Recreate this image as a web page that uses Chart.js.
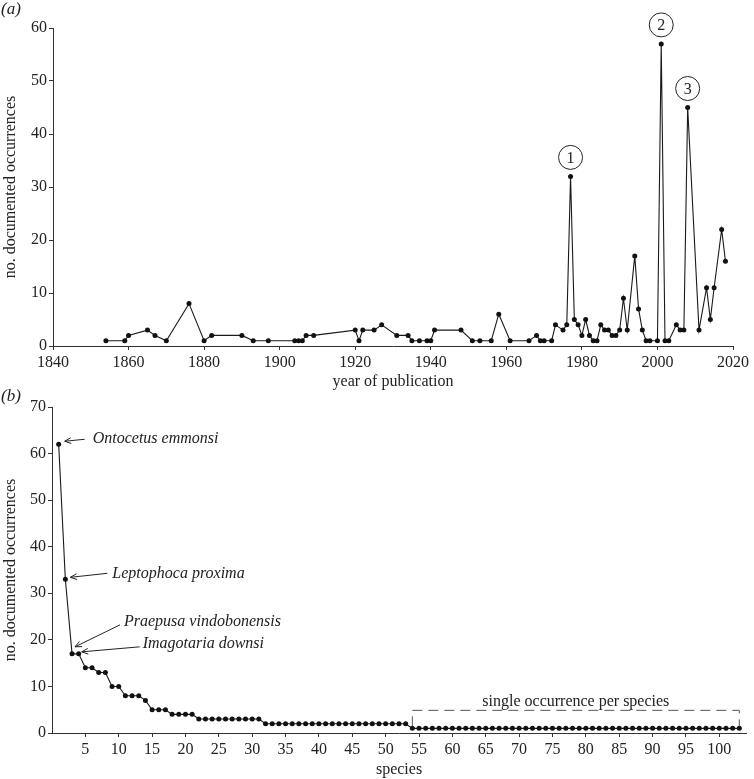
<!DOCTYPE html>
<html>
<head>
<meta charset="utf-8">
<script src="https://cdn.jsdelivr.net/npm/chart.js@4"></script>
<style>
  body { margin: 0; background: #fff; }
  #wrap { position: relative; width: 754px; height: 779px; }
  canvas { position: absolute; left: 0; }
</style>
</head>
<body>
<div id="wrap">
  <canvas id="chartA" width="754" height="392" style="top:0"></canvas>
  <canvas id="chartB" width="754" height="394" style="top:385px"></canvas>
</div>
<script>
// (a) occurrences per year of publication
const years = [1854, 1859, 1860, 1865, 1867, 1870, 1876, 1880, 1882, 1890, 1893, 1897,
  1904, 1905, 1906, 1907, 1909, 1920, 1921, 1922, 1925, 1927, 1931, 1934, 1935, 1937,
  1939, 1940, 1941, 1948, 1951, 1953, 1956, 1958, 1961, 1966, 1968, 1969, 1970, 1972,
  1973, 1975, 1976, 1977, 1978, 1979, 1980, 1981, 1982, 1983, 1984, 1985, 1986, 1987,
  1988, 1989, 1990, 1991, 1992, 1994, 1995, 1996, 1997, 1998, 2000, 2001, 2002, 2003,
  2005, 2006, 2007, 2008, 2011, 2013, 2014, 2015, 2017, 2018];
const counts = [1, 1, 2, 3, 2, 1, 8, 1, 2, 2, 1, 1,
  1, 1, 1, 2, 2, 3, 1, 3, 3, 4, 2, 2, 1, 1,
  1, 1, 3, 3, 1, 1, 1, 6, 1, 1, 2, 1, 1, 1,
  4, 3, 4, 32, 5, 4, 2, 5, 2, 1, 1, 4, 3, 3,
  2, 2, 3, 9, 3, 17, 7, 3, 1, 1, 1, 57, 1, 1,
  4, 3, 3, 45, 3, 11, 5, 11, 22, 16];
const peakYears = [1977, 2001, 2008];
const peakLabels = ['1', '2', '3'];

// (b) occurrences per species, ranked
const speciesCounts = [62, 33, 17, 17, 14, 14, 13, 13, 10, 10, 8, 8, 8, 7, 5, 5, 5, 4, 4, 4, 4,
  3, 3, 3, 3, 3, 3, 3, 3, 3, 3,
  2, 2, 2, 2, 2, 2, 2, 2, 2, 2, 2, 2, 2, 2, 2, 2, 2, 2, 2, 2, 2, 2,
  1, 1, 1, 1, 1, 1, 1, 1, 1, 1, 1, 1, 1, 1, 1, 1, 1, 1, 1, 1, 1, 1, 1, 1, 1,
  1, 1, 1, 1, 1, 1, 1, 1, 1, 1, 1, 1, 1, 1, 1, 1, 1, 1, 1, 1, 1, 1, 1, 1, 1];
const namedSpecies = [
  { rank: 1, name: 'Ontocetus emmonsi' },
  { rank: 2, name: 'Leptophoca proxima' },
  { rank: 3, name: 'Praepusa vindobonensis' },
  { rank: 4, name: 'Imagotaria downsi' }
];
const bracketText = 'single occurrence per species';

const serif = 'Liberation Serif, Times New Roman, serif';
const ink = '#222';
const axisInk = '#333';
const tickFont = { family: serif, size: 16 };

function axis(extra) {
  return Object.assign({
    type: 'linear',
    grid: { drawOnChartArea: false, tickLength: 4, color: axisInk, lineWidth: 1 },
    border: { color: axisInk, width: 1 }
  }, extra);
}

const circlePlugin = {
  id: 'circles',
  afterDraw(chart) {
    const ctx = chart.ctx;
    const pts = chart.getDatasetMeta(0).data;
    ctx.save();
    ctx.strokeStyle = ink;
    ctx.fillStyle = ink;
    ctx.lineWidth = 1;
    ctx.font = '16px ' + serif;
    ctx.textAlign = 'center';
    ctx.textBaseline = 'middle';
    peakYears.forEach((yr, i) => {
      const p = pts[years.indexOf(yr)];
      const cy = p.y - 19;
      ctx.beginPath();
      ctx.arc(p.x, cy, 12, 0, Math.PI * 2);
      ctx.stroke();
      ctx.fillText(peakLabels[i], p.x, cy + 1);
    });
    ctx.font = 'italic 17px ' + serif;
    ctx.textAlign = 'left';
    ctx.fillText('(a)', 1, 10);
    ctx.restore();
  }
};

new Chart(document.getElementById('chartA'), {
  type: 'line',
  data: {
    datasets: [{
      data: years.map((y, i) => ({ x: y, y: counts[i] })),
      borderColor: '#1a1a1a',
      borderWidth: 1.1,
      pointRadius: 2.5,
      pointBorderWidth: 0,
      pointBackgroundColor: '#111',
      tension: 0
    }]
  },
  options: {
    responsive: false,
    animation: false,
    layout: { padding: { top: 28, right: 21, left: 0, bottom: 0 } },
    plugins: { legend: { display: false }, tooltip: { enabled: false } },
    scales: {
      x: axis({
        min: 1840, max: 2020,
        ticks: { stepSize: 20, font: tickFont, color: ink, padding: 3, maxRotation: 0, callback: v => String(v) },
        title: { display: true, text: 'year of publication', font: tickFont, color: ink, padding: { top: 0, bottom: 1 } },
        afterFit(s) { s.height = 46; }
      }),
      y: axis({
        min: 0, max: 60,
        ticks: { stepSize: 10, font: tickFont, color: ink, padding: 2 },
        title: { display: true, text: 'no. documented occurrences', font: tickFont, color: ink, padding: { top: 1, bottom: 0 } },
        afterFit(s) { s.width = 53; }
      })
    }
  },
  plugins: [circlePlugin]
});

function arrow(ctx, x1, y1, x2, y2) {
  const a = Math.atan2(y2 - y1, x2 - x1);
  const len = 7, spread = 0.42;
  ctx.beginPath();
  ctx.moveTo(x1, y1);
  ctx.lineTo(x2, y2);
  ctx.moveTo(x2 - len * Math.cos(a - spread), y2 - len * Math.sin(a - spread));
  ctx.lineTo(x2, y2);
  ctx.lineTo(x2 - len * Math.cos(a + spread), y2 - len * Math.sin(a + spread));
  ctx.stroke();
}

// label offsets from each named point: arrow tail, arrow head, text start
const labelOffsets = [
  { tail: [26, -5], head: [6, -3], text: [34, -5] },
  { tail: [42, -6], head: [5, -2], text: [47, -6] },
  { tail: [48, -29], head: [3, -7], text: [52, -32] },
  { tail: [61, -7], head: [3, -2], text: [64, -10] }
];

const speciesPlugin = {
  id: 'speciesNotes',
  afterDraw(chart) {
    const ctx = chart.ctx;
    const xs = chart.scales.x, ys = chart.scales.y;
    ctx.save();
    ctx.strokeStyle = ink;
    ctx.fillStyle = ink;
    ctx.lineWidth = 1;
    ctx.textBaseline = 'middle';
    ctx.font = 'italic 16px ' + serif;
    namedSpecies.forEach((s, i) => {
      const px = xs.getPixelForValue(s.rank);
      const py = ys.getPixelForValue(speciesCounts[s.rank - 1]);
      const o = labelOffsets[i];
      arrow(ctx, px + o.tail[0], py + o.tail[1], px + o.head[0], py + o.head[1]);
      ctx.fillText(s.name, px + o.text[0], py + o.text[1]);
    });
    // dashed bracket over the single-occurrence species
    const first = speciesCounts.indexOf(1) + 1;
    const last = speciesCounts.length;
    const x1 = xs.getPixelForValue(first), x2 = xs.getPixelForValue(last);
    const yb = ys.getPixelForValue(1) - 18;
    ctx.strokeStyle = '#555';
    ctx.setLineDash([10, 6]);
    ctx.beginPath();
    ctx.moveTo(x1, yb + 16);
    ctx.lineTo(x1, yb);
    ctx.lineTo(x2, yb);
    ctx.lineTo(x2, yb + 16);
    ctx.stroke();
    ctx.setLineDash([]);
    ctx.font = '16px ' + serif;
    ctx.textAlign = 'center';
    ctx.fillText(bracketText, (x1 + x2) / 2, yb - 9);
    ctx.font = 'italic 17px ' + serif;
    ctx.textAlign = 'left';
    ctx.fillText('(b)', 1, 12);
    ctx.restore();
  }
};

new Chart(document.getElementById('chartB'), {
  type: 'line',
  data: {
    datasets: [{
      data: speciesCounts.map((v, i) => ({ x: i + 1, y: v })),
      borderColor: '#1a1a1a',
      borderWidth: 1.1,
      pointRadius: 2.5,
      pointBorderWidth: 0,
      pointBackgroundColor: '#111',
      tension: 0
    }]
  },
  options: {
    responsive: false,
    animation: false,
    layout: { padding: { top: 22, right: 8, left: 0, bottom: 0 } },
    plugins: { legend: { display: false }, tooltip: { enabled: false } },
    scales: {
      x: axis({
        min: 0, max: 104,
        ticks: { stepSize: 5, includeBounds: false, font: tickFont, color: ink, padding: 3, maxRotation: 0, autoSkip: false },
        afterBuildTicks(s) { s.ticks = s.ticks.filter(t => t.value >= 5 && t.value <= 100); },
        title: { display: true, text: 'species', font: tickFont, color: ink, padding: { top: 0, bottom: 0 } },
        afterFit(s) { s.height = 46; }
      }),
      y: axis({
        min: 0, max: 70,
        ticks: { stepSize: 10, font: tickFont, color: ink, padding: 2 },
        title: { display: true, text: 'no. documented occurrences', font: tickFont, color: ink, padding: { top: 1, bottom: 0 } },
        afterFit(s) { s.width = 52; }
      })
    }
  },
  plugins: [speciesPlugin]
});
</script>
</body>
</html>
